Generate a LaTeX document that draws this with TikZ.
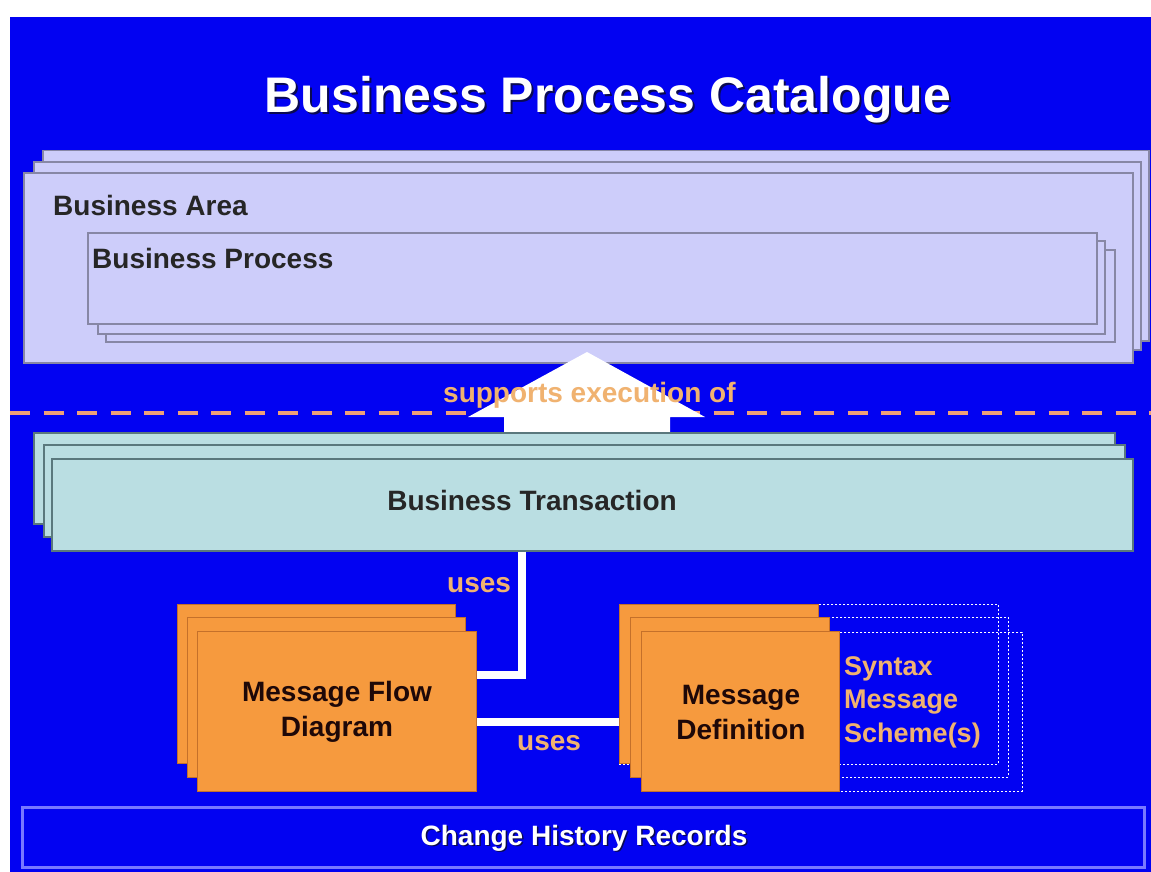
\documentclass[tikz,border=0pt]{standalone}
\usepackage{fontspec}
\setmainfont{Liberation Sans}
\definecolor{bgblue}{RGB}{2,2,242}
\definecolor{bafill}{RGB}{205,205,250}
\definecolor{baline}{RGB}{135,135,165}
\definecolor{btfill}{RGB}{186,222,226}
\definecolor{btline}{RGB}{90,120,125}
\definecolor{orfill}{RGB}{246,154,62}
\definecolor{orline}{RGB}{196,112,42}
\definecolor{lblc}{RGB}{240,178,112}
\definecolor{dashc}{RGB}{238,160,120}
\definecolor{chrline}{RGB}{120,120,255}
\definecolor{shadowc}{RGB}{10,10,80}
\definecolor{darktext}{RGB}{30,8,8}
\newcommand\bx[6]{\node[#1, anchor=north west, inner sep=0pt, minimum width={#5-#3}, minimum height={#6-#4}] (#2) at (#3,#4) {};}
\begin{document}
\begin{tikzpicture}[x=1pt,y=-1pt,
  babox/.style={draw=baline, line width=1.5pt, fill=bafill},
  btbox/.style={draw=btline, line width=1.5pt, fill=btfill},
  orbox/.style={draw=orline, line width=1pt, fill=orfill},
  dotbox/.style={draw=white, line width=0.9pt, dash pattern=on 2pt off 2pt},
  conn/.style={draw=white, line width=8pt},
  lbl/.style={text=lblc, font=\fontsize{28}{34}\selectfont\bfseries, inner sep=0pt},
  dark/.style={text=darktext, font=\fontsize{28}{35}\selectfont\bfseries, inner sep=0pt},
  white text/.style={text=white, font=\fontsize{28}{34}\selectfont\bfseries, inner sep=0pt},
  shadow text/.style={text=shadowc, font=\fontsize{28}{34}\selectfont\bfseries, inner sep=0pt}
]
\useasboundingbox (0,0) rectangle (1151,872);
\fill[white] (0,0) rectangle (1151,872);
\fill[bgblue] (10,17) rectangle (1151,872);

% title
\node[shadow text, font=\fontsize{50}{60}\selectfont\bfseries, anchor=base] (titleshadow) at (610,115) {Business Process Catalogue};
\node[white text, font=\fontsize{50}{60}\selectfont\bfseries, anchor=base] (title) at (608,113) {Business Process Catalogue};

% business area stack
\bx{babox}{ba3}{42}{150}{1148}{340}
\bx{babox}{ba2}{33}{161}{1140}{349}
\bx{babox}{ba1}{23}{172}{1132}{362}
% business process stack
\bx{babox}{bp3}{105}{249}{1114}{341}
\bx{babox}{bp2}{97}{240}{1104}{333}
\bx{babox}{bp1}{87}{232}{1096}{323}
\node[dark, text=black!85, anchor=base west] (batext) at (53,215) {Business Area};
\node[dark, text=black!85, anchor=base west] (bptext) at (92,268) {Business Process};

% dashed separator
\coordinate (dl1) at (10,413);
\coordinate (dl2) at (1151,413);
\draw[dashc, line width=4pt, dash pattern=on 20pt off 13.5pt] (dl1) -- (dl2);

% white arrow
\fill[white] (587,352) -- (705,417) -- (670,417) -- (670,432) -- (504,432) -- (504,417) -- (468,417) -- cycle;
\node[lbl, anchor=base west] (supports) at (443,402) {supports execution of};

% business transaction stack
\bx{btbox}{bt1}{33}{432}{1114}{523}
\bx{btbox}{bt2}{43}{444}{1124}{536}
\bx{btbox}{bt3}{51}{458}{1132}{550}
\node[dark, text=black!85] (bttext) at (532,500) {Business Transaction};

% syntax message scheme dotted boxes
\bx{dotbox}{sy1}{619}{604}{998}{764}
\bx{dotbox}{sy2}{630}{617}{1008}{777}
\bx{dotbox}{sy3}{641}{632}{1022}{791}

% message flow diagram stack
\bx{orbox}{mfd1}{177}{604}{455}{763}
\bx{orbox}{mfd2}{187}{617}{465}{777}
\bx{orbox}{mfd3}{197}{631}{476}{791}
\node[dark, align=center] (mfdtext) at (337,712) {Message Flow\\Diagram};

% message definition stack
\bx{orbox}{md1}{619}{604}{818}{763}
\bx{orbox}{md2}{630}{617}{829}{777}
\bx{orbox}{md3}{641}{631}{839}{791}
\node[dark, align=center] (mdtext) at (741,712) {Message\\Definition};

\node[lbl, align=left, anchor=west, font=\fontsize{27}{33.5}\selectfont\bfseries] (syntext) at (844,702) {Syntax\\Message\\Scheme(s)};

% connectors
\coordinate (c1) at (522,675);
\coordinate (c2) at (0,722);
\draw[conn] (c1 |- bt3.south) -- (c1) -- (c1 -| mfd3.east);
\draw[conn] (c2 -| mfd3.east) -- (c2 -| md1.west);
\node[lbl, anchor=base west] (uses1) at (447,592) {uses};
\node[lbl, anchor=base west] (uses2) at (517,750) {uses};

% change history records
\bx{draw=chrline, line width=3pt}{chr}{21}{806}{1143}{866}
\node[shadow text, anchor=center] (chrshadow) at (585.5,839.5) {Change History Records};
\node[white text, anchor=center] (chrtext) at (584,838) {Change History Records};
\end{tikzpicture}
\end{document}
